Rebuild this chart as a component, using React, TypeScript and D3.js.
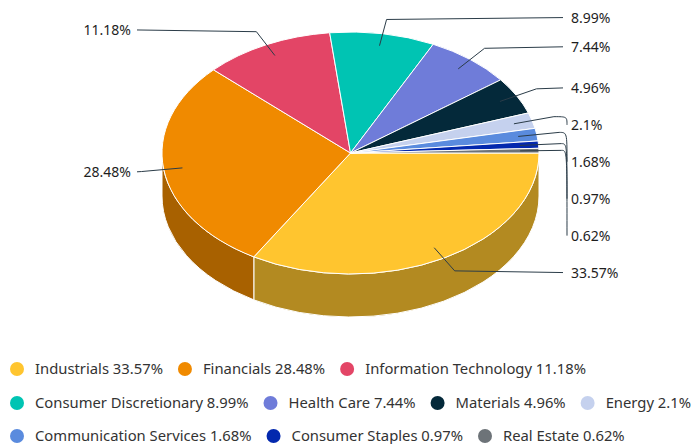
import React, { useEffect, useRef } from "react";
import * as d3 from "d3";

const categories = [
  "Industrials",
  "Financials",
  "Information Technology",
  "Consumer Discretionary",
  "Health Care",
  "Materials",
  "Energy",
  "Communication Services",
  "Consumer Staples",
  "Real Estate",
];
const values = [33.57, 28.48, 11.18, 8.99, 7.44, 4.96, 2.1, 1.68, 0.97, 0.62];
const valueLabels = ["33.57%", "28.48%", "11.18%", "8.99%", "7.44%", "4.96%", "2.1%", "1.68%", "0.97%", "0.62%"];
const colors = [
  "#FFC52F",
  "#F08A00",
  "#E34566",
  "#00C4B3",
  "#6F7CD9",
  "#04293A",
  "#C5D1EE",
  "#5A8BDE",
  "#0328AE",
  "#6D7378",
];

const W = 691;
const H = 444;
const cx = 350.5;
const cy = 153;
const rx = 188.5;
const ry = 121;
const depth = 43;
const FONT = "'Noto Sans', 'Open Sans', sans-serif";

function P(theta: number, f = 1, dz = 0): [number, number] {
  return [cx + rx * f * Math.sin(theta), cy - ry * f * Math.cos(theta) + dz];
}

type Lab = { i: number; natural: number; y: number; right: boolean };

function spread(items: Lab[], minGap: number) {
  items.sort((a, b) => a.natural - b.natural);
  items.forEach((d) => (d.y = d.natural));
  let k = 0;
  while (k < items.length) {
    let j = k;
    while (j + 1 < items.length && items[j + 1].natural - items[j].natural < minGap) j++;
    if (j > k) {
      const prev = k - 1 >= 0 ? items[k - 1].y : null;
      const next = j + 1 < items.length ? items[j + 1].y : null;
      if (prev !== null && next !== null) {
        const n = j - k + 2;
        for (let m = k; m <= j; m++) items[m].y = prev + ((m - k + 1) * (next - prev)) / n;
      } else {
        for (let m = k + 1; m <= j; m++) items[m].y = Math.max(items[m].natural, items[m - 1].y + minGap);
      }
    }
    k = j + 1;
  }
}

function Legend() {
  const ref = useRef<SVGGElement>(null);
  useEffect(() => {
    const g = d3.select(ref.current!);
    g.selectAll("*").remove();
    const legendSize = 14.8;
    const rowYs = [369, 403, 436];
    let x = 10;
    let row = 0;
    categories.forEach((c, i) => {
      const txt = `${c} ${valueLabels[i]}`;
      const item = g.append("g");
      item.append("circle").attr("r", 7).attr("fill", colors[i]);
      const t = item
        .append("text")
        .attr("x", 18)
        .attr("y", 5)
        .attr("font-family", FONT)
        .attr("font-size", legendSize)
        .attr("fill", "#333333")
        .text(txt);
      const tw = (t.node() as SVGTextElement).getComputedTextLength();
      const w = 25 + tw;
      if (x + w > 720 && x > 10) {
        row++;
        x = 10;
      }
      item.attr("transform", `translate(${x + 7},${rowYs[row]})`);
      x += w + 15;
    });
  }, []);
  return <g ref={ref} />;
}

export default function App() {
  const pie = d3
    .pie<number>()
    .sort(null)
    .startAngle(Math.PI / 2)
    .endAngle(Math.PI / 2 + Math.PI * 2)(values);

  const sides = pie
    .map((a, i) => {
      const s = Math.max(a.startAngle, Math.PI / 2);
      const e = Math.min(a.endAngle, (3 * Math.PI) / 2);
      if (s >= e) return null;
      const p0 = P(s), p1 = P(e), q1 = P(e, 1, depth), q0 = P(s, 1, depth);
      const path = `M${p0[0]},${p0[1]} A${rx},${ry} 0 0 1 ${p1[0]},${p1[1]} L${q1[0]},${q1[1]} A${rx},${ry} 0 0 0 ${q0[0]},${q0[1]} Z`;
      const col = d3.rgb(colors[i]);
      const dark = d3.rgb(col.r * 0.7, col.g * 0.7, col.b * 0.7).toString();
      return <path key={"s" + i} d={path} fill={dark} stroke="#ffffff" strokeWidth={1} strokeLinejoin="round" />;
    })
    .filter(Boolean);

  const tops = pie.map((a, i) => {
    const p0 = P(a.startAngle), p1 = P(a.endAngle);
    const large = a.endAngle - a.startAngle > Math.PI ? 1 : 0;
    const path = `M${cx},${cy} L${p0[0]},${p0[1]} A${rx},${ry} 0 ${large} 1 ${p1[0]},${p1[1]} Z`;
    return <path key={"t" + i} d={path} fill={colors[i]} stroke="#ffffff" strokeWidth={1} strokeLinejoin="round" />;
  });

  const labs: Lab[] = pie.map((a, i) => {
    const mid = (a.startAngle + a.endAngle) / 2;
    return { i, natural: cy - ry * 1.136 * Math.cos(mid), y: 0, right: Math.sin(mid) >= 0 };
  });
  spread(labs.filter((d) => d.right), 20);
  spread(labs.filter((d) => !d.right), 20);

  const labelEls = labs.map((d) => {
    const a = pie[d.i];
    const mid = (a.startAngle + a.endAngle) / 2;
    const t = P(mid, 0.9);
    const b = P(mid, 1.12);
    const shifted = Math.abs(b[1] - d.y) >= 3;
    const lx = d.right ? cx + rx + (shifted ? 28 : 24) : cx - rx - 25;
    const tx = d.right ? cx + rx + 32 : cx - rx - 31;
    const pathH = shifted
      ? `M${t[0]},${t[1]} L${b[0]},${b[1]} C${lx},${b[1]} ${lx},${b[1]} ${lx},${d.y}`
      : `M${t[0]},${t[1]} L${b[0]},${b[1]} L${lx},${d.y}`;
    return (
      <g key={"l" + d.i}>
        <path d={pathH} fill="none" stroke="#2b3c48" strokeWidth={1} />
        <text
          x={tx}
          y={d.y + 5}
          textAnchor={d.right ? "start" : "end"}
          fontFamily={FONT}
          fontSize={14}
          fill="#1e1e1e"
        >
          {valueLabels[d.i]}
        </text>
      </g>
    );
  });

  return (
    <svg width={W} height={H} style={{ position: "absolute", left: 0, top: 0, background: "#ffffff" }}>
      <rect width={W} height={H} fill="#ffffff" />
      {sides}
      {tops}
      {labelEls}
      <Legend />
    </svg>
  );
}
